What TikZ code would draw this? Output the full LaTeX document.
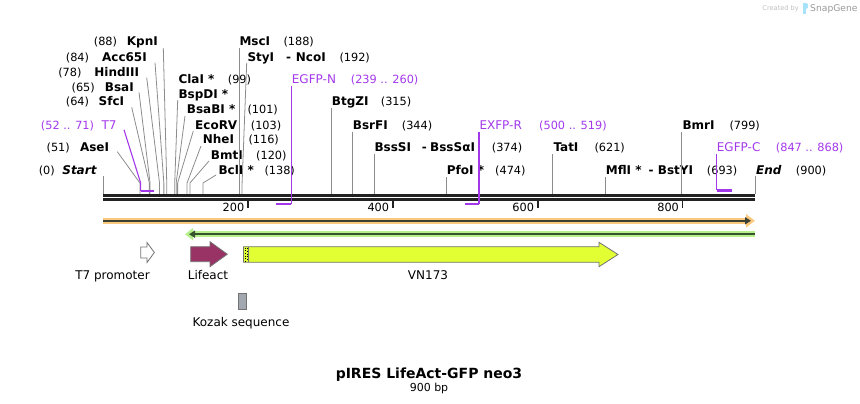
\documentclass[tikz,border=0pt]{standalone}
\usepackage{fontspec}
\setmainfont{DejaVu Sans}
\usetikzlibrary{arrows.meta}
\definecolor{primer}{RGB}{163,56,235}
\definecolor{cutgray}{RGB}{140,140,140}
\definecolor{bb}{RGB}{34,34,34}
\definecolor{orhalo}{RGB}{251,201,126}
\definecolor{grhalo}{RGB}{182,240,138}
\definecolor{barline}{RGB}{60,64,50}
\definecolor{lifeact}{RGB}{153,51,102}
\definecolor{vn}{RGB}{225,255,50}
\definecolor{kozak}{RGB}{163,168,176}
\begin{document}
\begin{tikzpicture}[x=1pt,y=-1pt,
  nm/.style={inner sep=0pt,font=\fontsize{12}{14}\selectfont\bfseries,anchor=base west},
  nmr/.style={nm,anchor=base east},
  num/.style={inner sep=0pt,font=\fontsize{11.3}{13}\selectfont,anchor=base west},
  numr/.style={num,anchor=base east},
  prm/.style={inner sep=0pt,font=\fontsize{12}{14}\selectfont,text=primer,anchor=base west},
  prmr/.style={prm,anchor=base east},
  pnum/.style={num,text=primer},
  pnumr/.style={numr,text=primer},
  cut/.style={draw=cutgray,line width=0.8pt},
  pline/.style={draw=primer,line width=1.1pt},
  pbar/.style={draw=primer,line width=2.2pt},
  feat/.style={inner sep=0pt,font=\fontsize{12}{14}\selectfont,anchor=base},
  tickl/.style={inner sep=0pt,font=\fontsize{11.3}{13}\selectfont,anchor=base east},
  fshape/.style={draw=black!55,line width=0.8pt}
]
\useasboundingbox (0,0) rectangle (860,404);

% watermark
\node[inner sep=0pt,font=\fontsize{6.6}{8}\selectfont,text=black!25,anchor=base east] (wm1) at (799,11) {Created by};
\fill[cyan!35] (803,3) rectangle (806,14);
\fill[cyan!35] (806,3) .. controls (809,3) and (809,9) .. (806,9) -- cycle;
\node[inner sep=0pt,font=\fontsize{9.2}{11}\selectfont,text=black!40,anchor=base west] (wm2) at (810,12) {SnapGene};

\coordinate (bend) at (0,183);

% ---------- left group labels ----------
\node[nmr] (kpn) at (158,45.8) {KpnI};      \node[numr] (kpnN) at (117.3,45.8) {(88)};
\node[nmr] (acc) at (147,61.3) {Acc65I};    \node[numr] (accN) at (89.3,61.3) {(84)};
\node[nmr] (hin) at (139.3,76.3) {HindIII}; \node[numr] (hinN) at (81.7,76.3) {(78)};
\node[nmr] (bsa) at (134,91.3) {BsaI};      \node[numr] (bsaN) at (95,91.3) {(65)};
\node[nmr] (sfc) at (124.3,105.8) {SfcI};   \node[numr] (sfcN) at (89.3,105.8) {(64)};
\node[prmr] (t7) at (116.7,129.1) {T7};     \node[pnumr] (t7N) at (94.3,129.1) {(52 .. 71)};
\node[nmr] (ase) at (109.3,151.3) {AseI};   \node[numr] (aseN) at (70,151.3) {(51)};
\node[nmr,font=\fontsize{12}{14}\selectfont\bfseries\itshape] (start) at (96.7,174.3) {Start};
\node[numr] (startN) at (55,174.3) {(0)};

% ---------- middle group labels ----------
\node[nm] (cla) at (178.3,83.8) {ClaI *};   \node[num] (claN) at (227.7,83.8) {(99)};
\node[nm] (bsp) at (178.3,98.3) {BspDI *};
\node[nm] (bsab) at (186.7,113.6) {BsaBI *}; \node[num] (bsabN) at (247.3,113.6) {(101)};
\node[nm] (eco) at (195,129.1) {EcoRV};     \node[num] (ecoN) at (250.7,129.1) {(103)};
\node[nm] (nhe) at (202.7,143.6) {NheI};    \node[num] (nheN) at (248.3,143.6) {(116)};
\node[nm] (bmt) at (210.7,159) {BmtI};      \node[num] (bmtN) at (256,159) {(120)};
\node[nm] (bcl) at (218.3,174.3) {BclI *};  \node[num] (bclN) at (264.3,174.3) {(138)};

% ---------- top / right labels ----------
\node[nm] (msc) at (239.3,45.8) {MscI};     \node[num] (mscN) at (283.3,45.8) {(188)};
\node[nm] (sty) at (247.3,61.3) {StyI};     \node[nm] (styD) at (286,61.3) {-};
\node[nm] (nco) at (295.7,61.3) {NcoI};     \node[num] (styN) at (339.3,61.3) {(192)};
\node[prm] (egfpn) at (291.7,83.8) {EGFP-N}; \node[pnum] (egfpnN) at (350.7,83.8) {(239 .. 260)};
\node[nm] (btg) at (331.7,105.8) {BtgZI};   \node[num] (btgN) at (380.7,105.8) {(315)};
\node[nm] (bsr) at (352.7,129.1) {BsrFI};   \node[num] (bsrN) at (401.7,129.1) {(344)};
\node[nm] (bss) at (374.3,151.3) {BssSI};   \node[nm] (bssD) at (421.7,151.3) {-};
\node[nm] (bssa) at (430,151.3) {BssSαI};   \node[num] (bssN) at (491.7,151.3) {(374)};
\node[nm] (pfo) at (446.7,174.3) {PfoI *};  \node[num] (pfoN) at (495,174.3) {(474)};
\node[prm] (exfp) at (479.3,129.1) {EXFP-R}; \node[pnum] (exfpN) at (539,129.1) {(500 .. 519)};
\node[nm] (tat) at (553.3,151.3) {TatI};    \node[num] (tatN) at (594.3,151.3) {(621)};
\node[nm] (mfl) at (605.7,174.3) {MflI *};  \node[nm] (mflD) at (648.3,174.3) {-};
\node[nm] (bst) at (657.7,174.3) {BstYI};   \node[num] (mflN) at (706.7,174.3) {(693)};
\node[nm] (bmr) at (682.3,129.1) {BmrI};    \node[num] (bmrN) at (729.3,129.1) {(799)};
\node[prm] (egfpc) at (716.7,151.3) {EGFP-C}; \node[pnum] (egfpcN) at (775.7,151.3) {(847 .. 868)};
\node[nm,font=\fontsize{12}{14}\selectfont\bfseries\itshape] (endl) at (756,174.3) {End};
\node[num] (endN) at (795.7,174.3) {(900)};

% ---------- line anchors ----------
\coordinate (kpnT) at (163.3,48);   \coordinate (kpnS) at (166.75,194);
\coordinate (accT) at (155,62.7);   \coordinate (accS) at (163.85,194);
\coordinate (hinT) at (146.7,77.7); \coordinate (hinS) at (159.51,194);
\coordinate (bsaT) at (139,92.3);   \coordinate (bsaS) at (150.09,194);
\coordinate (sfcT) at (131.7,107.3);\coordinate (sfcS) at (149.36,194);
\coordinate (aseT) at (117.3,151.7);\coordinate (aseS) at (139.95,194);
\coordinate (startT) at (103,176);  \coordinate (startS) at (103,194);
\coordinate (claT) at (177.7,100);  \coordinate (claS) at (174.72,194);
\coordinate (bsabT) at (185,116);   \coordinate (bsabS) at (176.17,194);
\coordinate (ecoT) at (193.3,131);  \coordinate (ecoS) at (177.62,194);
\coordinate (nheT) at (201,146);    \coordinate (nheS) at (187.04,194);
\coordinate (bmtT) at (209,161);    \coordinate (bmtS) at (189.93,194);
\coordinate (bclT) at (216,175);    \coordinate (bclS) at (202.97,194);
\coordinate (mscT) at (239.2,48);   \coordinate (mscS) at (239.2,194);
\coordinate (styT) at (246.7,63);   \coordinate (styS) at (242.09,194);
\coordinate (btgT) at (331.2,108);  \coordinate (btgS) at (331.2,194);
\coordinate (bsrT) at (352.2,131.5);\coordinate (bsrS) at (352.2,194);
\coordinate (bssT) at (373.94,154); \coordinate (bssS) at (373.94,194);
\coordinate (pfoT) at (446.4,177);  \coordinate (pfoS) at (446.4,194);
\coordinate (tatT) at (552.88,154); \coordinate (tatS) at (552.88,194);
\coordinate (mflT) at (605.04,177); \coordinate (mflS) at (605.04,194);
\coordinate (bmrT) at (681.83,132); \coordinate (bmrS) at (681.83,194);
\coordinate (endT) at (755,176);    \coordinate (endS) at (755,194);

% ---------- cut-site lines ----------
\foreach \s in {kpn,acc,hin,bsa,sfc,ase,cla,bsab,eco,nhe,bmt,bcl,sty}{
  \draw[cut] (\s T) -- (\s S |- bend) -- (\s S);
}
\foreach \s in {start,msc,btg,bsr,bss,pfo,tat,mfl,bmr,endl}{}
\draw[cut] (startT) -- (startS);
\draw[cut] (mscT) -- (mscS);
\draw[cut] (btgT) -- (btgS);
\draw[cut] (bsrT) -- (bsrS);
\draw[cut] (bssT) -- (bssS);
\draw[cut] (pfoT) -- (pfoS);
\draw[cut] (tatT) -- (tatS);
\draw[cut] (mflT) -- (mflS);
\draw[cut] (bmrT) -- (bmrS);
\draw[cut] (endT) -- (endS);

% ---------- backbone ----------
\coordinate (b0) at (103,195.6); \coordinate (b1) at (755,195.6);
\coordinate (c0) at (103,199.4); \coordinate (c1) at (755,199.4);
\draw[bb,line width=2.7pt] (b0) -- (b1);
\draw[bb,line width=2.7pt] (c0) -- (c1);

% ticks
\foreach \t/\x in {200/247.9,400/392.8,600/537.7,800/682.6}{
  \draw[bb,line width=1.6pt] (\x,200.5) coordinate (tk\t) -- (\x,207.5);
  \node[tickl] (tl\t) at (\x-3.5,211.5) {\t};
}

% ---------- primers ----------
\coordinate (t7T) at (124,129.8);   \coordinate (t7a) at (140.67,191);  \coordinate (t7b) at (154.44,191);
\draw[pline] (t7T) -- (t7a |- bend) -- (t7a);
\draw[pbar] (t7a) -- (t7b);
\coordinate (enT) at (291.35,86);   \coordinate (ena) at (291.35,204);  \coordinate (enb) at (276.14,204);
\draw[pline] (enT) -- (ena);
\draw[pbar] (ena) -- (enb);
\coordinate (exT) at (479,132);     \coordinate (exa) at (479,204);     \coordinate (exb) at (465.22,204);
\draw[pline] (exT) -- (exa);
\draw[pbar] (exa) -- (exb);
\coordinate (ecT) at (716.6,154);   \coordinate (eca) at (716.6,190.4); \coordinate (ecb) at (731.81,190.4);
\draw[pline] (ecT) -- (eca);
\draw[pbar] (eca) -- (ecb);

% ---------- ORF bars ----------
\coordinate (o0) at (103,220.8); \coordinate (o1) at (751,220.8); \coordinate (o2) at (755,220.8);
\draw[orhalo,line width=6.5pt,-{Triangle[width=13pt,length=9pt]}] (o0) -- (o2);
\draw[barline,line width=2pt,-{Triangle[width=7pt,length=6pt]}] (o0) -- (o1);
\coordinate (g0) at (755,234.2); \coordinate (g1) at (189,234.2); \coordinate (g2) at (185,234.2);
\draw[grhalo,line width=6pt,-{Triangle[width=12pt,length=8pt]}] (g0) -- (g2);
\draw[barline!90!green,line width=2pt,-{Triangle[width=7pt,length=6pt]}] (g0) -- (g1);

% ---------- features ----------
\draw[fshape,fill=white] (140.7,247) -- (147,247) -- (147,242.5) -- (154.4,252.5) -- (147,262.5) -- (147,258) -- (140.7,258) -- cycle;
\node[feat] (t7p) at (112.5,279.5) {T7 promoter};

\draw[fshape,fill=lifeact] (190.7,246.7) -- (210,246.7) -- (210,241.7) -- (227.3,254.2) -- (210,266.7) -- (210,261.7) -- (190.7,261.7) -- cycle;
\node[feat] (lifeactL) at (208,279.5) {Lifeact};

\draw[fshape,fill=vn] (243.5,246.7) -- (599,246.7) -- (599,242.3) -- (618,254.5) -- (599,266.7) -- (599,262.3) -- (243.5,262.3) -- cycle;
\draw[black!55,line width=0.6pt] (248.6,247) -- (248.6,262);
\draw[black,line width=0.7pt,dotted] (245.2,247.5) -- (245.2,261.5);
\draw[black,line width=0.7pt,dotted] (247.2,248.2) -- (247.2,261.5);
\node[feat] (vnL) at (428,279.5) {VN173};

\draw[fshape,fill=kozak] (238.3,293.3) rectangle (246.7,309.3);
\node[feat] (kozL) at (241,326.4) {Kozak sequence};

% ---------- title ----------
\node[inner sep=0pt,font=\fontsize{14}{16}\selectfont\bfseries,anchor=base] (title) at (429,378) {pIRES LifeAct-GFP neo3};
\node[inner sep=0pt,font=\fontsize{11}{13}\selectfont,anchor=base] (size) at (429,391.5) {900 bp};
\end{tikzpicture}
\end{document}
